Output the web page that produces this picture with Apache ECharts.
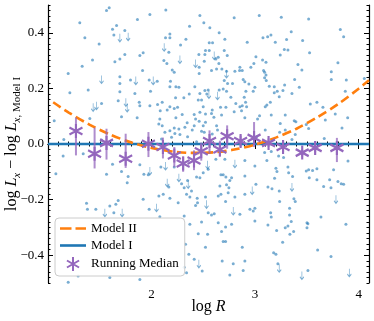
<!DOCTYPE html>
<html><head><meta charset="utf-8">
<script src="https://cdn.jsdelivr.net/npm/echarts@6/dist/echarts.min.js"></script>
<style>html,body{margin:0;padding:0;background:#fff}#c{width:374px;height:321px}</style>
</head><body><div id="c"></div>
<script>
// ---------------- data ----------------
const scatterPoints = [
[1.565,0.480],[1.591,0.490],[1.984,0.466],[1.864,0.448],[1.307,0.436],[1.662,0.426],[1.623,0.413],[1.742,0.408],[1.636,0.392],[1.494,0.360],[1.356,0.382],[1.919,0.328],[1.887,0.318],[1.430,0.302],[1.742,0.322],[1.694,0.306],[1.646,0.296],[1.330,0.280],[1.913,0.264],[1.195,0.254],[1.694,0.242],[1.797,0.230],[1.977,0.230],[1.694,0.218],[1.388,0.194],[1.211,0.184],[1.694,0.188],[1.839,0.182],[1.990,0.190],[1.678,0.156],[1.881,0.150],[1.887,0.138],[1.984,0.138],[1.517,0.146],[1.710,0.098],[1.861,0.094],[1.404,0.092],[1.060,0.084],[1.153,0.016],[1.517,0.014],
[2.138,0.482],[2.467,0.462],[2.798,0.454],[3.040,0.462],[2.505,0.436],[2.563,0.418],[2.367,0.424],[2.177,0.396],[2.135,0.382],[2.177,0.382],[2.653,0.400],[2.332,0.377],[2.708,0.377],[2.557,0.364],[2.589,0.364],[2.280,0.356],[2.924,0.366],[2.167,0.330],[2.521,0.336],[2.557,0.336],[2.457,0.322],[2.515,0.322],[2.702,0.336],[2.621,0.306],[2.644,0.312],[2.731,0.318],[2.509,0.298],[2.119,0.300],[2.148,0.290],[2.650,0.290],[3.008,0.314],[2.988,0.290],[2.460,0.276],[2.853,0.276],[2.876,0.264],[2.959,0.276],[2.579,0.264],[2.628,0.270],[2.200,0.266],[2.219,0.258],[2.679,0.270],[2.724,0.262],[2.805,0.262],[2.850,0.264],[2.055,0.226],[2.183,0.226],[2.460,0.254],[2.177,0.206],[2.235,0.206],[2.264,0.204],[2.702,0.228],[2.734,0.218],[2.782,0.218],[2.885,0.232],[2.901,0.224],[2.940,0.216],[2.418,0.206],[2.515,0.192],[2.547,0.194],[2.467,0.182],[2.653,0.194],[2.692,0.198],[2.724,0.190],[2.998,0.204],[2.982,0.190],[2.911,0.190],[2.534,0.180],[2.364,0.180],[2.312,0.166],[2.232,0.166],[2.451,0.158],[2.483,0.158],[2.766,0.168],[2.895,0.168],[2.058,0.142],[2.103,0.150],[2.177,0.134],[2.084,0.120],[2.151,0.122],[2.219,0.128],[2.251,0.132],[2.499,0.134],[2.586,0.122],[2.666,0.132],[2.718,0.132],[2.814,0.146],[2.853,0.134],[2.876,0.138],[2.908,0.150],[2.918,0.134],[2.798,0.116],[2.869,0.120],[2.296,0.106],[2.412,0.106],[2.467,0.114],[2.521,0.108],[2.579,0.110],[2.602,0.096],[2.676,0.104],[3.043,0.102],[2.080,0.090],[2.070,0.072],[2.103,0.066],[2.235,0.094],[2.425,0.090],[2.460,0.082],[2.521,0.078],[2.344,0.076],[2.322,0.060],[2.412,0.066],[2.499,0.066],[2.628,0.066],[2.901,0.094],[3.024,0.090],[2.129,0.042],[2.177,0.048],[2.219,0.058],[2.264,0.054],[2.225,0.038],[2.274,0.034],[2.483,0.046],[2.509,0.042],[2.393,0.050],[2.193,0.024],[2.348,0.026],[2.586,0.036],[2.637,0.050],[2.096,0.018],[2.435,0.008],[3.014,0.026],
[3.253,0.456],[3.517,0.450],[3.349,0.404],[3.823,0.412],[3.855,0.386],[3.076,0.382],[3.121,0.386],[3.153,0.392],[3.195,0.366],[3.304,0.376],[3.459,0.372],[3.282,0.340],[3.317,0.338],[3.243,0.320],[3.526,0.328],[3.072,0.302],[3.105,0.294],[3.800,0.292],[3.414,0.286],[3.082,0.264],[3.092,0.258],[3.452,0.266],[3.105,0.248],[3.092,0.238],[3.108,0.228],[3.736,0.260],[3.382,0.232],[3.736,0.232],[3.881,0.230],[4.055,0.236],[3.285,0.212],[3.137,0.208],[3.185,0.206],[3.427,0.204],[3.214,0.190],[3.185,0.184],[3.269,0.192],[3.356,0.182],[3.871,0.190],[3.233,0.170],[3.147,0.150],[3.114,0.140],[3.098,0.134],[3.533,0.144],[3.597,0.150],[3.655,0.132],[3.156,0.104],[3.291,0.104],[3.774,0.108],[3.894,0.094],[3.678,0.086],[3.378,0.084],[3.394,0.080],[3.243,0.074],[3.494,0.070],[3.839,0.058],[3.098,0.050],[3.291,0.050],[3.517,0.056],[3.388,0.034],[3.356,0.016],[3.668,0.020],[3.237,0.042],
[1.146,-0.043],[1.340,-0.035],[1.076,-0.107],[1.565,-0.109],[1.623,-0.073],[1.710,-0.099],[1.774,-0.117],[1.765,-0.139],[1.887,-0.075],[1.926,-0.109],[1.968,-0.111],[1.372,-0.213],[1.381,-0.235],[1.462,-0.235],[1.597,-0.223],[1.636,-0.247],[1.678,-0.203],[1.655,-0.217],[1.919,-0.199],[1.977,-0.235],[1.195,-0.497],[1.887,-0.487],[1.597,-0.480],[1.291,-0.475],
[2.090,-0.083],[2.219,-0.083],[2.167,-0.155],[2.290,-0.143],[2.348,-0.131],[2.386,-0.169],[2.435,-0.119],[2.467,-0.121],[2.499,-0.103],[2.547,-0.091],[2.621,-0.055],[2.708,-0.055],[2.901,-0.059],[2.998,-0.079],[2.670,-0.111],[2.692,-0.111],[2.718,-0.119],[2.773,-0.121],[2.756,-0.131],[2.660,-0.151],[2.724,-0.147],[2.747,-0.157],[2.901,-0.115],[3.008,-0.145],[2.071,-0.187],[2.113,-0.181],[2.177,-0.195],[2.315,-0.157],[2.338,-0.181],[2.370,-0.191],[2.257,-0.211],[2.441,-0.195],[2.444,-0.211],[2.425,-0.221],[2.521,-0.191],[2.547,-0.247],[2.579,-0.255],[2.605,-0.251],[2.644,-0.187],[2.670,-0.181],[2.740,-0.175],[2.805,-0.191],[2.901,-0.181],[2.715,-0.207],[2.950,-0.235],[2.982,-0.241],[2.998,-0.231],[2.853,-0.253],[2.315,-0.259],[2.370,-0.289],[2.483,-0.281],[2.451,-0.323],[2.541,-0.325],[2.644,-0.283],[2.715,-0.299],[2.676,-0.315],[2.692,-0.351],[2.715,-0.351],[2.773,-0.289],[2.876,-0.371],[2.998,-0.277],[2.328,-0.361],[2.521,-0.371],[2.360,-0.397],[2.412,-0.415],[2.682,-0.421],[2.789,-0.431],[2.901,-0.421],[2.885,-0.455],[2.315,-0.443],[2.338,-0.463],[2.489,-0.457],[2.756,-0.471],[2.080,-0.262],
[3.092,-0.031],[3.156,-0.027],[3.227,-0.043],[3.275,-0.049],[3.114,-0.059],[3.317,-0.083],[3.201,-0.087],[3.211,-0.099],[3.324,-0.103],[3.362,-0.117],[3.188,-0.123],[3.494,-0.097],[3.517,-0.093],[3.555,-0.095],[3.597,-0.089],[3.523,-0.121],[3.597,-0.129],[3.758,-0.093],[3.720,-0.129],[3.800,-0.135],[3.832,-0.143],[3.855,-0.145],[3.897,-0.061],[3.124,-0.155],[3.163,-0.161],[3.233,-0.169],[3.662,-0.153],[3.733,-0.157],[3.375,-0.197],[3.388,-0.207],[3.237,-0.207],[3.333,-0.231],[3.150,-0.247],[3.156,-0.263],[3.333,-0.255],[3.349,-0.279],[3.501,-0.283],[3.510,-0.287],[3.636,-0.263],[3.124,-0.291],[3.291,-0.301],[3.317,-0.295],[3.501,-0.301],[3.372,-0.315],[3.336,-0.325],[3.208,-0.311],[3.877,-0.289],[3.266,-0.353],[3.604,-0.381],[3.179,-0.391],[3.201,-0.397],[3.733,-0.405],[3.220,-0.431],[3.510,-0.455]
];
const upperLimits = [
[1.694,0.382],[1.774,0.386],[1.517,0.232],[1.848,0.228],[2.016,0.228],[1.752,0.150],[1.765,0.130],[1.468,0.138],[1.436,0.132],
[2.122,0.348],[2.605,0.318],[2.274,0.304],[2.425,0.290],[2.724,0.252],[2.554,0.178],[2.637,0.174],
[1.984,-0.097],[1.549,-0.247],[1.716,-0.247],
[2.135,-0.079],[2.151,-0.139],[2.264,-0.121],[2.354,-0.145],[2.541,-0.075],[2.805,-0.071],[2.531,-0.217],[2.789,-0.241],[2.972,-0.167],[2.457,-0.431],[2.048,-0.229],
[3.356,-0.155],[3.781,-0.199],[3.233,-0.447],[3.452,-0.473],[3.910,-0.463]
];
const medianX  = [1.27, 1.45, 1.565, 1.75, 1.97, 2.11, 2.22, 2.305, 2.41, 2.48, 2.56, 2.66, 2.73, 2.86, 2.99, 3.13, 3.27, 3.455, 3.58, 3.79];
const medianY  = [0.047, -0.035, 0.004, -0.053, 0.001, -0.011, -0.041, -0.070, -0.059, -0.026, 0.011, -0.020, 0.028, 0.011, 0.022, 0.004, -0.011, -0.031, -0.014, -0.014];
const medianHi = [0.095, 0.059, 0.055, 0.037, 0.043, 0.023, -0.011, -0.045, -0.023, 0.005, 0.049, 0.012, 0.067, 0.030, 0.079, 0.020, 0.010, -0.020, 0.010, 0.022];
const medianLo = [-0.041, -0.088, -0.056, -0.086, -0.047, -0.052, -0.083, -0.100, -0.094, -0.060, -0.035, -0.045, -0.017, -0.010, -0.011, -0.010, -0.030, -0.045, -0.030, -0.065];
const model2X = [1.05, 1.2, 1.4, 1.6, 1.8, 2.0, 2.2, 2.4, 2.6, 2.8, 3.0, 3.2, 3.4, 3.6, 3.8, 4.0, 4.1];
const model2Y = [0.150, 0.113, 0.070, 0.034, 0.006, -0.014, -0.027, -0.032, -0.030, -0.020, -0.002, 0.023, 0.055, 0.096, 0.143, 0.199, 0.229];
const model1X = [1.0, 4.1];
const model1Y = [0.0, 0.0];
const xMajorTicks = [1, 2, 3, 4];
const xTickLabels = ['', '2', '3', '4'];
const yMajorTicks = [-0.4, -0.2, 0, 0.2, 0.4];
const yTickLabels = ['\u22120.4', '\u22120.2', '0.0', '0.2', '0.4'];
const legendNames = ['Model II', 'Model I', 'Running Median'];

// ---------------- chart ----------------
const FONT = "'Liberation Serif','DejaVu Serif',serif";
const BLUE = '#1f77b4', ORANGE = '#ff7f0e', PURPLE = '#9467bd';
const X0 = 1.0, X1 = 4.1, Y0 = -0.5, Y1 = 0.5;

function xAx(pos, major, withLine) {
  const a = {
    type: 'value', position: pos, min: X0, max: X1, gridIndex: 0,
    splitLine: {show: false},
    axisLine: {show: withLine, lineStyle: {color: '#000', width: 1.2}},
    axisTick: {show: true, inside: true, length: major ? 5 : 2.5, lineStyle: {color: '#000', width: 1}},
    axisLabel: {show: false}
  };
  if (major) {
    a.axisTick.customValues = xMajorTicks;
    a.interval = 1;
  } else {
    a.interval = 0.1;
  }
  return a;
}
function yAx(pos, major, withLine) {
  const a = {
    type: 'value', position: pos, min: Y0, max: Y1, gridIndex: 0,
    splitLine: {show: false},
    axisLine: {show: withLine, lineStyle: {color: '#000', width: 1.2}},
    axisTick: {show: true, inside: true, length: major ? 5 : 2.5, lineStyle: {color: '#000', width: 1}},
    axisLabel: {show: false}
  };
  if (major) {
    a.axisTick.customValues = yMajorTicks;
    a.interval = 0.1;
  } else {
    a.interval = 0.02;
  }
  return a;
}

const xa0 = xAx('bottom', true, true);
xa0.axisLabel = {show: true, customValues: xMajorTicks, margin: 5, color: '#000', fontFamily: FONT, fontSize: 13,
  formatter: v => { const i = xMajorTicks.indexOf(Math.round(v)); return i >= 0 ? xTickLabels[i] : ''; }};
xa0.name = '{n|log }{i|R}';
xa0.nameLocation = 'middle';
xa0.nameGap = 16;
xa0.nameMoveOverlap = false;
xa0.nameTextStyle = {color: '#000', fontFamily: FONT, fontSize: 16,
  rich: {n: {fontFamily: FONT, fontSize: 16, color: '#000'}, i: {fontFamily: FONT, fontSize: 16, fontStyle: 'italic', color: '#000'}}};

const ya0 = yAx('left', true, true);
ya0.axisLabel = {show: true, customValues: yMajorTicks, margin: 4, color: '#000', fontFamily: FONT, fontSize: 13,
  formatter: v => { let best = 0; yMajorTicks.forEach((t, i) => { if (Math.abs(t - v) < Math.abs(yMajorTicks[best] - v)) best = i; }); return yTickLabels[best]; }};
ya0.name = '{n|log }{i|L}{s|x}{n| \u2212 log }{i|L}{s|x}{r|, Model I}';
ya0.nameLocation = 'middle';
ya0.nameRotate = 90;
ya0.nameGap = 25;
ya0.nameMoveOverlap = false;
ya0.nameTextStyle = {color: '#000', fontFamily: FONT, fontSize: 16,
  rich: {
    n: {fontFamily: FONT, fontSize: 16, color: '#000', lineHeight: 22},
    i: {fontFamily: FONT, fontSize: 16, fontStyle: 'italic', color: '#000', lineHeight: 22},
    s: {fontFamily: FONT, fontSize: 11, fontStyle: 'italic', color: '#000', verticalAlign: 'bottom', lineHeight: 12},
    r: {fontFamily: FONT, fontSize: 11, color: '#000', verticalAlign: 'bottom', lineHeight: 12}
  }};

const option = {
  animation: false,
  backgroundColor: '#fff',
  grid: {left: 48, right: 5, top: 5, bottom: 38, containLabel: false, outerBoundsMode: 'none'},
  xAxis: [xa0, xAx('bottom', false, false), xAx('top', true, true), xAx('top', false, false)],
  yAxis: [ya0, yAx('left', false, false), yAx('right', true, true), yAx('right', false, false)],
  legend: {
    data: [
      {name: legendNames[0], icon: 'path://M0,0H11.5V2.6H0Z M15.5,0H26V2.6H15.5Z', itemStyle: {color: ORANGE, borderWidth: 0}},
      {name: legendNames[1], icon: 'path://M0,0H26V2.6H0Z', itemStyle: {color: BLUE, borderWidth: 0}},
      {name: legendNames[2]}
    ],
    orient: 'vertical', left: 55, top: 218,
    itemWidth: 26, itemHeight: 14, itemGap: 4,
    padding: [4, 6, 4, 5],
    backgroundColor: 'rgba(255,255,255,0.85)',
    borderColor: '#cccccc', borderWidth: 1, borderRadius: 4,
    textStyle: {fontFamily: FONT, fontSize: 13, color: '#000'},
    selectedMode: false
  },
  series: [
    {
      type: 'scatter', name: 'data', data: scatterPoints, symbol: 'circle', symbolSize: 3,
      itemStyle: {color: BLUE, opacity: 0.6}, silent: true, z: 1
    },
    {
      type: 'scatter', name: 'limits', data: upperLimits,
      symbol: 'path://M5,0L5,14M1.5,9.5L5,14L8.5,9.5', symbolSize: [4, 8],
      itemStyle: {color: 'rgba(0,0,0,0)', borderColor: BLUE, borderWidth: 1, opacity: 0.6}, silent: true, z: 1
    },
    {
      type: 'line', name: 'Model I', data: model1X.map((x, i) => [x, model1Y[i]]),
      symbol: 'none', lineStyle: {color: BLUE, width: 2.6}, itemStyle: {color: BLUE}, z: 3
    },
    {
      type: 'line', name: 'Model II', data: model2X.map((x, i) => [x, model2Y[i]]), smooth: 0.3,
      symbol: 'none', lineStyle: {color: ORANGE, width: 2.6, type: [9, 4.5]}, itemStyle: {color: ORANGE}, z: 4
    },
    {
      type: 'custom', name: 'errbars',
      data: medianX.map((x, i) => [x, medianLo[i], medianHi[i]]),
      encode: {x: 0, y: [1, 2]},
      renderItem: (params, api) => {
        const p1 = api.coord([api.value(0), api.value(1)]);
        const p2 = api.coord([api.value(0), api.value(2)]);
        return {type: 'line', shape: {x1: p1[0], y1: p1[1], x2: p2[0], y2: p2[1]},
          style: {stroke: PURPLE, lineWidth: 2, opacity: 0.75}};
      },
      silent: true, z: 5
    },
    {
      type: 'scatter', name: 'Running Median', data: medianX.map((x, i) => [x, medianY[i]]),
      symbol: 'path://M10,0L10,20M1.34,5L18.66,15M1.34,15L18.66,5', symbolSize: [13, 14],
      itemStyle: {color: 'rgba(0,0,0,0)', borderColor: PURPLE, borderWidth: 2.2, opacity: 1}, z: 6
    }
  ]
};
const chart = echarts.init(document.getElementById('c'));
chart.setOption(option);
</script>
</body></html>
